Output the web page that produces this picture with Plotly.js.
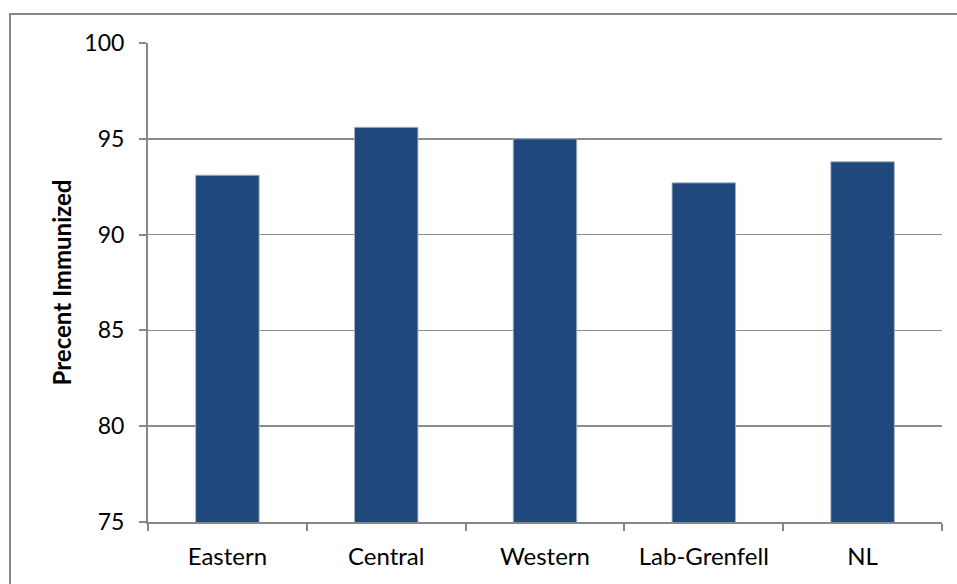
<!DOCTYPE html>
<html>
<head>
<meta charset="utf-8">
<script src="https://cdn.plot.ly/plotly-3.0.1.min.js"></script>
<style>html,body{margin:0;padding:0;background:#fff;}#chart{width:957px;height:584px;}</style>
</head>
<body>
<div id="chart"></div>
<script>
const categories = ["Eastern", "Central", "Western", "Lab-Grenfell", "NL"];
const values = [93.1, 95.6, 95.0, 92.7, 93.8];
const yTicks = [75, 80, 85, 90, 95, 100];

const FONT = "Lato, 'Open Sans', sans-serif";

const trace = {
  type: "bar",
  x: categories,
  y: values,
  marker: { color: "#1F497D", line: { color: "rgba(170,180,195,0.9)", width: 1 } },
  hoverinfo: "x+y"
};

const layout = {
  width: 957,
  height: 584,
  margin: { l: 148, r: 15, t: 43, b: 62 },
  paper_bgcolor: "#ffffff",
  plot_bgcolor: "#ffffff",
  bargap: 0.6,
  showlegend: false,
  font: { family: FONT, color: "#000000" },
  xaxis: {
    type: "category",
    showline: true,
    linecolor: "#878787",
    linewidth: 2,
    ticks: "outside",
    tickson: "boundaries",
    ticklen: 7,
    tickwidth: 2,
    tickcolor: "#878787",
    showgrid: false,
    tickfont: { family: FONT, size: 24, color: "#000" },
    ticklabelstandoff: 12
  },
  yaxis: {
    range: [75, 100],
    tickvals: yTicks,
    ticktext: yTicks.map(String),
    showline: true,
    linecolor: "#878787",
    linewidth: 2,
    ticks: "outside",
    ticklen: 7,
    tickwidth: 2,
    tickcolor: "#878787",
    showgrid: true,
    gridcolor: "#8c8c8c",
    gridwidth: 1.5,
    zeroline: false,
    tickfont: { family: FONT, size: 23, color: "#000" },
    ticklabelstandoff: 10,
    title: { text: "<b>Precent Immunized</b>", font: { family: FONT, size: 24, color: "#000" }, standoff: 6 }
  },
  shapes: [{
    type: "rect",
    xref: "paper", yref: "paper",
    x0: -0.1738, x1: 1.0227, y0: -0.142, y1: 1.0605,
    line: { color: "#878787", width: 2 },
    fillcolor: "rgba(0,0,0,0)",
    layer: "below"
  }]
};

Plotly.newPlot("chart", [trace], layout, { displayModeBar: false, staticPlot: true });
</script>
</body>
</html>
